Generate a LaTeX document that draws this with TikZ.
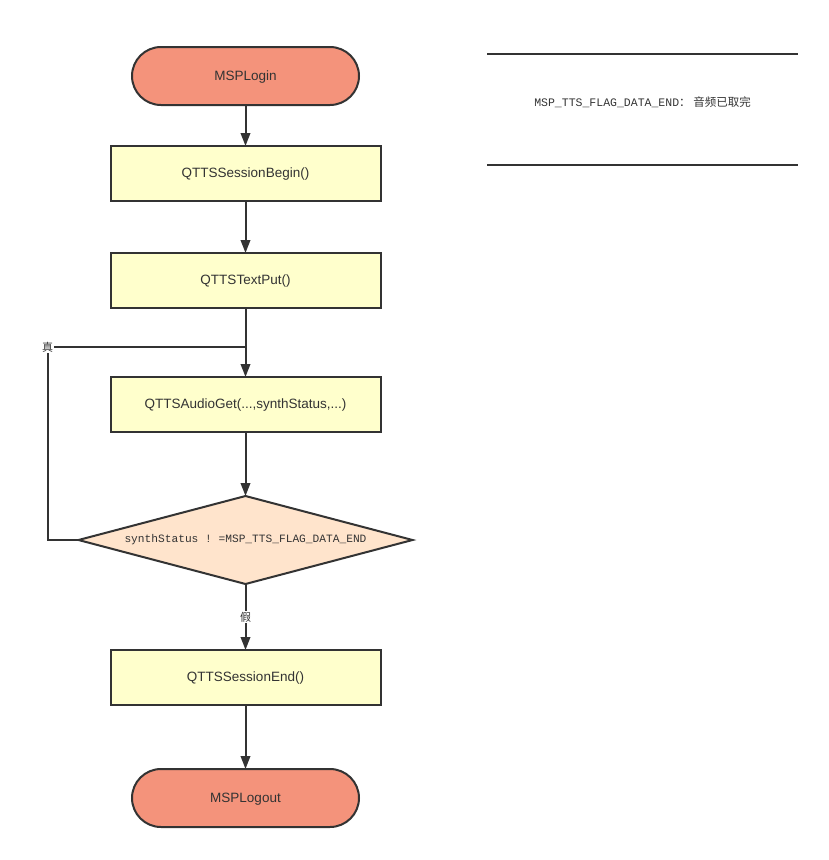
\documentclass[tikz,border=0pt]{standalone}
\usepackage{fontspec}
\setmainfont{Liberation Sans}
\setmonofont{Liberation Mono}
\newfontfamily\cjk{Noto Sans CJK SC}
\usepackage{tikz}
\usetikzlibrary{shapes,positioning,calc,arrows.meta}
\usepackage{xcolor}
\definecolor{ln}{HTML}{333333}
\definecolor{term}{HTML}{F4937B}
\definecolor{proc}{HTML}{FFFFCC}
\definecolor{cond}{HTML}{FFE4CC}

\begin{document}
\begin{tikzpicture}[
  every node/.style={align=center,text=ln,outer sep=0pt,font=\fontsize{13.5}{15}\selectfont},%
  e/.style={-{Triangle[length=13pt,width=9.5pt]},line width=2pt,draw=ln},%
  t/.style={rounded corners=29pt,fill=term,draw=ln,line width=2pt,%
    minimum width=227pt,minimum height=58pt,text depth=1pt,},%
  pr/.style={fill=proc,draw=ln,line width=2pt,%
    minimum width=270pt,minimum height=55pt,text depth=1pt,},%
  d/.style={diamond,aspect=3.8,fill=cond,draw=ln,line width=2pt,inner sep=0pt,%
    minimum width=334pt,minimum height=88pt,font=\ttfamily\fontsize{11.2}{13}\selectfont},%
  lb/.style={fill=white,inner sep=1pt,font=\cjk\fontsize{11}{13}\selectfont},%
  rule/.style={line width=2.4pt,draw=ln},%
  ]
  \useasboundingbox (0,0) rectangle (829pt,-860pt);

  \node (login) [t] at (245.5pt,-76pt) {MSPLogin};

  \node (begin) [pr,below=41pt of login] {QTTSSessionBegin()};

  \node (put) [pr,below=52pt of begin] {QTTSTextPut()};

  \node (get) [pr,below=69pt of put] {QTTSAudioGet(...,synthStatus,...)};

  \node (check) [d,below=64pt of get] {synthStatus ! =MSP\_TTS\_FLAG\_DATA\_END};

  \node (end) [pr,below=66pt of check] {QTTSSessionEnd()};

  \node (logout) [t,below=64pt of end] {MSPLogout};

  % note on the right
  \node (note) [font=\ttfamily\fontsize{11.5}{13}\selectfont] at (642.5pt,-102pt)
    {MSP\_TTS\_FLAG\_DATA\_END{\cjk ：\ 音频已取完}};
  \coordinate (ntl) at (487pt,-54pt);
  \coordinate (ntr) at (798pt,-54pt);
  \coordinate (nbl) at (487pt,-165pt);
  \coordinate (nbr) at (798pt,-165pt);
  \draw [rule] (ntl) -- (ntr);
  \draw [rule] (nbl) -- (nbr);

  \coordinate (merge) at ([yshift=30pt]get.north);

  \draw [e] (login) -- (begin);
  \draw [e] (begin) -- (put);
  \draw [e] (put) -- (get);
  \draw [e] (get) -- (check);
  \draw [e] (check) -- node [lb] {假} (end);
  \draw [e] (end) -- (logout);
  \draw [line width=2pt,draw=ln] (check.west) -- ++(-31pt,0)
    |- node [lb,pos=0.5] {真} (merge);
\end{tikzpicture}
\end{document}
